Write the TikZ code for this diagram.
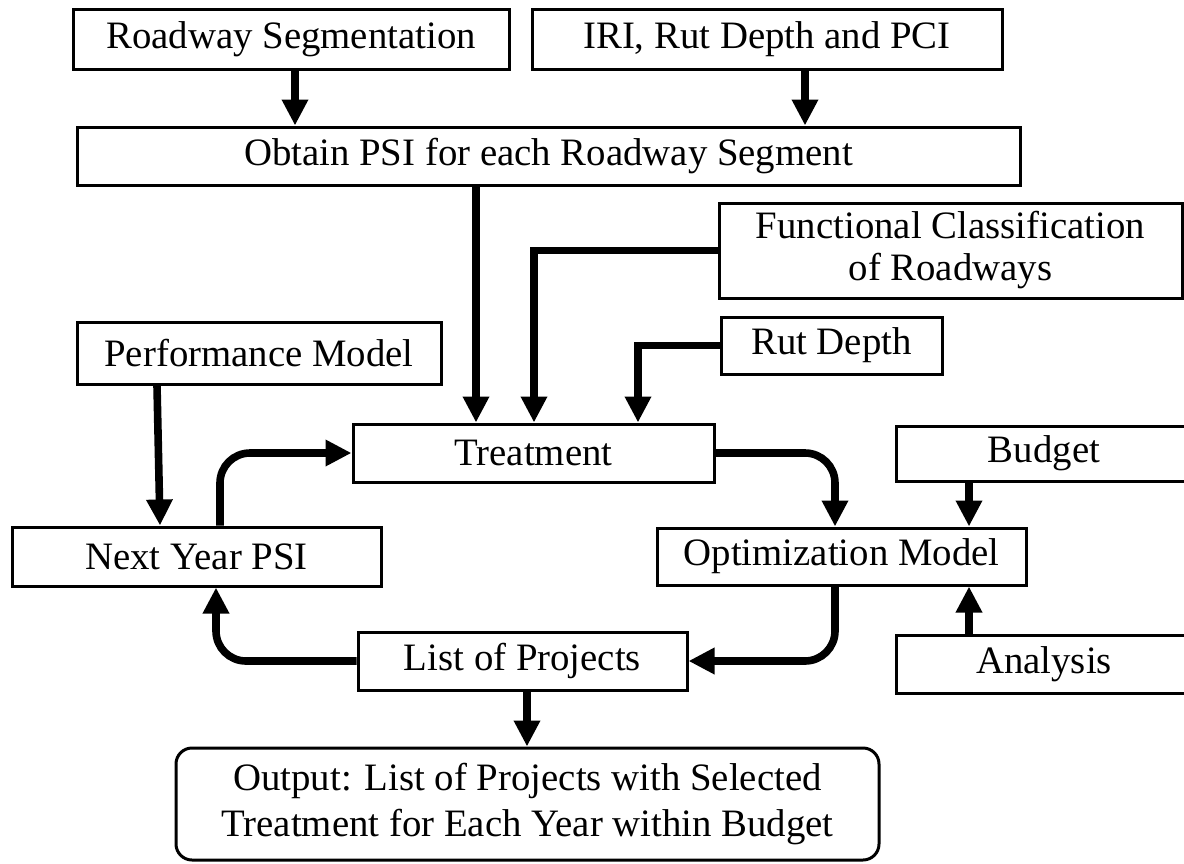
\documentclass[tikz,border=0pt]{standalone}
\usepackage{fontspec}
\setmainfont{Liberation Serif}
\usetikzlibrary{arrows.meta}
\begin{document}
\begin{tikzpicture}[x=0.5pt, y=-0.5pt,
  box/.style={draw=black, line width=1.5pt, inner sep=0pt, align=center, font=\fontsize{19.4}{21}\selectfont},
  arr/.style={draw=black, line width=3.8pt, -{Triangle[length=13pt, width=12.5pt]}},
  loop/.style={arr, rounded corners=15pt}]
	\useasboundingbox (0,0) rectangle (1184,863);

	\node[box, minimum width=218pt, minimum height=30pt] (seg) at (291,39) {Roadway Segmentation};
	\node[box, minimum width=235pt, minimum height=30pt] (iri) at (767,39) {IRI, Rut Depth and PCI};
	\node[box, minimum width=471.5pt, minimum height=29pt] (psi) at (548.5,156) {Obtain PSI for each Roadway Segment};
	\node[box, minimum width=231.5pt, minimum height=47.5pt] (func) at (950.5,250.5) {Functional Classification\\of Roadways};
	\node[box, minimum width=110.5pt, minimum height=28.5pt] (rut) at (831.5,345.5) {Rut Depth};
	\node[box, minimum width=182pt, minimum height=31pt] (perf) at (259,353) {Performance Model};
	\node[box, minimum width=180.5pt, minimum height=29pt] (treat) at (533.5,453) {Treatment};
	\node[box, minimum width=148pt, minimum height=27.5pt] (budget) at (1044,453.5) {Budget};
	\node[box, minimum width=184.5pt, minimum height=29.5pt] (next) at (196.5,556.5) {Next Year PSI};
	\node[box, minimum width=184.5pt, minimum height=28.5pt] (opt) at (841.5,556.5) {Optimization Model};
	\node[box, minimum width=164.5pt, minimum height=29pt] (list) at (522.5,661) {List of Projects};
	\node[box, minimum width=148pt, minimum height=29pt] (anal) at (1044,664) {Analysis};
	\node[box, rounded corners=8pt, minimum width=351.5pt, minimum height=56pt, font=\fontsize{19.4}{23}\selectfont] (out) at (527.5,804) {Output: List of Projects with Selected\\Treatment for Each Year within Budget};

	\draw[arr] (seg.south -| 295,0) -- (295,0 |- psi.north);
	\draw[arr] (iri.south -| 805,0) -- (805,0 |- psi.north);
	\draw[arr] (psi.south -| 476,0) -- (476,0 |- treat.north);
	\draw[arr] (func.west) -| (534,0 |- treat.north);
	\draw[arr] (rut.west) -| (638,0 |- treat.north);
	\draw[arr] (perf.south -| 157,0) -- (160,0 |- next.north);
	\draw[loop] (220,0 |- next.north) |- (treat.west);
	\draw[loop] (treat.east) -| (835,0 |- opt.north);
	\draw[arr] (budget.south -| 969,0) -- (969,0 |- opt.north);
	\draw[arr] (anal.north -| 969,0) -- (969,0 |- opt.south);
	\draw[loop] (835,0 |- opt.south) |- (list.east);
	\draw[loop] (list.west) -| (216,0 |- next.south);
	\draw[arr] (list.south -| 527,0) -- (527,0 |- out.north);
\end{tikzpicture}
\end{document}
